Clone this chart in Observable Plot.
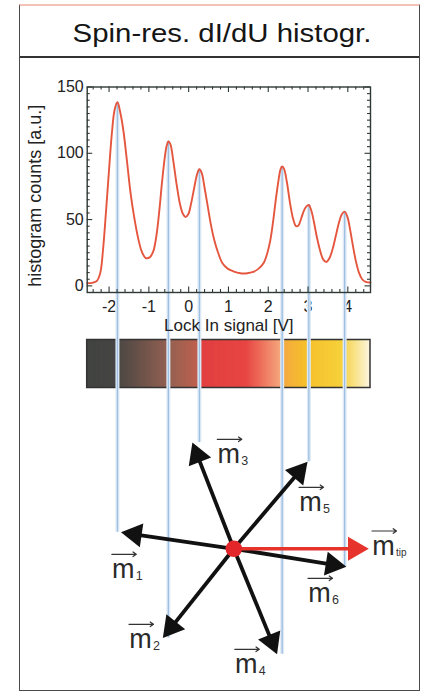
<!DOCTYPE html>
<html><head><meta charset="utf-8">
<script src="https://cdn.jsdelivr.net/npm/d3@7"></script>
<script src="https://cdn.jsdelivr.net/npm/@observablehq/plot@0.6"></script>
<style>
html,body{margin:0;padding:0;background:#fff;}
#page{position:relative;width:424px;height:693px;overflow:hidden;font-family:"Liberation Sans",Arial,sans-serif;}
#chart{position:absolute;left:0;top:0;width:424px;height:693px;}
#frame{position:absolute;left:19px;top:4px;width:401px;height:687px;box-sizing:border-box;border:1.5px solid #4a4a4a;border-top:2px solid #f2c3b6;pointer-events:none;}
#rule{position:absolute;left:20px;top:55.5px;width:399px;height:0;border-top:2px solid #333;}
#title{position:absolute;left:222px;top:19.5px;transform:translateX(-50%) scaleX(1.13);font-size:26px;line-height:26px;white-space:nowrap;color:#151515;}
</style></head>
<body><div id="page"><div id="chart"></div><div id="frame"></div><div id="rule"></div><div id="title"></div></div>
<script>
// ---------- data ----------
const titleText = "Spin-res. dI/dU histogr.";
const xLabel = "Lock In signal [V]";
const yLabel = "histogram counts [a.u.]";
const signal = [-2.55,-2.40,-2.30,-2.22,-2.15,-2.08,-2.00,-1.93,-1.86,-1.79,-1.72,-1.64,-1.55,-1.46,-1.37,-1.27,-1.18,-1.08,-0.98,-0.89,-0.81,-0.74,-0.67,-0.60,-0.55,-0.51,-0.46,-0.38,-0.30,-0.22,-0.14,-0.08,-0.01,0.06,0.14,0.21,0.27,0.33,0.40,0.48,0.56,0.64,0.74,0.85,0.98,1.12,1.30,1.47,1.62,1.76,1.88,1.97,2.05,2.12,2.19,2.26,2.31,2.35,2.40,2.47,2.55,2.63,2.70,2.76,2.83,2.90,2.96,3.02,3.08,3.15,3.22,3.30,3.38,3.46,3.54,3.62,3.70,3.78,3.85,3.92,3.99,4.06,4.13,4.20,4.28,4.36,4.45,4.57];
const counts = [2,2.5,4,10,28,55,88,115,133,138.5,131,117,94,70,52,36,26,21,21.5,26,38,56,78,97,106,109,107,93,76,62,54,52,54,62,74,84,88,85,74,60,46,35,25,17,13,11,9.5,9.5,10.5,13,17,24,34,48,65,80,88,90,88,78,62,50,45,45.5,51,57,60,61,57,48,37,27,20,18,21,28,38,48,54,56,52,42,30,19,10,5,3,2.5];
const xTicks = [-2,-1,0,1,2,3,4];
const yTicks = [0,50,100,150];
const peakSignal = [-1.79,-0.51,0.27,2.35,3.02,3.92];
const peakCounts = [138.5,109,88,90,61,56];
const momentLabels = ["1","2","3","4","5","6"];
const momentAngles = [171.7,231.5,111.3,292.3,49.7,350.9]; // degrees, counter-clockwise from m_tip
const tipLabel = "tip";
const tipAngle = 0;
const barStops = [-2.55,-1.85,-0.50,0.29,0.35,1.45,2.30,2.36,2.95,3.85,4.57];
const barColors = ["#3a3d3b","#3f3e3c","#8f5b4b","#bf5a47","#e1383a","#e63e3b","#f4a176","#f3a53a","#f5bd23","#f6cf33","#fbf5df"];

document.getElementById("title").textContent = titleText;

// ---------- layout ----------
const W = 424, H = 693;
const M = {top: 86.5, right: 54, bottom: 401, left: 86.7};
const xDomain = [-2.55, 4.57], yDomain = [-5, 150];
const sx = Plot.scale({x: {domain: xDomain, range: [M.left, W - M.right]}});
const sy = Plot.scale({y: {domain: yDomain, range: [H - M.bottom, M.top]}});
const X = p => sx.invert(p), Y = p => sy.invert(p);
const bottomPx = H - M.bottom, topPx = M.top, leftPx = M.left, rightPx = W - M.right;

// colour bar band
const barTopPx = 339.5, barBottomPx = 387.5;
const barStep = 0.01;
const barSlices = d3.range(Math.round((xDomain[1] - xDomain[0]) / barStep)).map(i => xDomain[0] + i * barStep);

// ticks (inward)
const minorX = d3.range(-24, 46, 2).map(i => i / 10).filter(v => !xTicks.some(t => Math.abs(t - v) < 1e-9));
const minorY = d3.range(5, 150, 5).filter(v => v % 50 !== 0);
const ticksXs = [...minorX.map(v => ({v, len: 3})), ...xTicks.map(v => ({v, len: 5.5}))];
const ticksYs = [...minorY.map(v => ({v, len: 3})), ...yTicks.map(v => ({v, len: 5.5}))];

// vector diagram
const hub = {x: 233.3, y: 548.3};
const arrowLen = 114, tipArrowLen = 135, headSide = 24;
const headH = headSide * Math.sqrt(3) / 2, headC = headSide / Math.sqrt(3);
const labelPos = [[-110.5,20.5],[-93.3,90.5],[-5,-94.5],[12.5,115.5],[76.7,-46.5],[85.7,44.5],[149.7,-2.8]];
function along(angle, len) {
  const a = angle * Math.PI / 180;
  return {x: hub.x + len * Math.cos(a), y: hub.y - len * Math.sin(a)};
}
const vectors = momentAngles.map((a, i) => ({angle: a, len: arrowLen, label: momentLabels[i], red: false}));
vectors.push({angle: tipAngle, len: tipArrowLen, label: tipLabel, red: true});
vectors.forEach((d, i) => {
  const t = along(d.angle, d.len), b = along(d.angle, d.len - headH + 2), c = along(d.angle, d.len - headC);
  d.tipX = X(t.x); d.tipY = Y(t.y);
  d.baseX = X(b.x); d.baseY = Y(b.y);
  d.headX = X(c.x); d.headY = Y(c.y);
  const lx = hub.x + labelPos[i][0], ly = hub.y + labelPos[i][1];
  d.mX = X(lx); d.mY = Y(ly);
  d.subX = X(lx + 12.5); d.subY = Y(ly + 7);
  d.ax1 = X(lx - 11.5); d.ax2 = X(lx + 13); d.ay = Y(ly - 15);
});
const blackVecs = vectors.filter(d => !d.red), redVecs = vectors.filter(d => d.red);
const hubX = X(hub.x), hubY = Y(hub.y);
const guides = peakSignal.map((p, i) => ({x: p, y1: peakCounts[i], y2: vectors[i].tipY}));
const hist = signal.map((s, i) => ({s, c: counts[i]}));

const axisColor = "#2f3a35";
const chart = Plot.plot({
  width: W, height: H,
  marginTop: M.top, marginRight: M.right, marginBottom: M.bottom, marginLeft: M.left,
  style: {fontFamily: "'Liberation Sans', Arial, sans-serif", fontSize: "16px", color: "#222", background: "transparent", overflow: "visible"},
  x: {domain: xDomain, ticks: xTicks, tickFormat: d => String(d), tickSize: 0, tickPadding: 8, label: null},
  y: {domain: yDomain, ticks: yTicks, tickFormat: d => String(d), tickSize: 0, tickPadding: 3.5, label: null},
  color: {type: "linear", domain: barStops, range: barColors},
  marks: [
    // colour bar
    Plot.rect(barSlices, {x1: d => d, x2: d => Math.min(d + barStep * 2, xDomain[1]), y1: () => Y(barBottomPx), y2: () => Y(barTopPx), fill: d => d + barStep / 2}),
    Plot.rect([0], {x1: () => xDomain[0], x2: () => xDomain[1], y1: () => Y(barBottomPx), y2: () => Y(barTopPx), fill: "none", stroke: "#333", strokeWidth: 1.5}),
    // guide lines from peaks to moments
    Plot.ruleX(guides, {x: "x", y1: "y1", y2: "y2", stroke: "#dfeaf5", strokeWidth: 4}),
    Plot.ruleX(guides, {x: "x", y1: "y1", y2: "y2", stroke: "#9dc0e2", strokeWidth: 1.3}),
    // histogram
    Plot.line(hist, {x: "s", y: "c", curve: "catmull-rom", stroke: "#e5563f", strokeWidth: 1.9}),
    Plot.frame({stroke: axisColor, strokeWidth: 1.4}),
    Plot.ruleX(ticksXs, {x: "v", y1: () => yDomain[0], y2: d => Y(bottomPx - d.len), stroke: axisColor, strokeWidth: 1.1}),
    Plot.ruleX(ticksXs, {x: "v", y1: () => yDomain[1], y2: d => Y(topPx + d.len), stroke: axisColor, strokeWidth: 1.1}),
    Plot.ruleY(ticksYs, {y: "v", x1: () => xDomain[0], x2: d => X(leftPx + d.len), stroke: axisColor, strokeWidth: 1.1}),
    Plot.ruleY(ticksYs, {y: "v", x1: () => xDomain[1], x2: d => X(rightPx - d.len), stroke: axisColor, strokeWidth: 1.1}),
    Plot.text([xLabel], {frameAnchor: "bottom", dy: 33.5, text: d => d, fontSize: 17, textAnchor: "middle", lineAnchor: "middle", fill: "#222"}),
    Plot.text([yLabel], {frameAnchor: "left", dx: -52, dy: 6, rotate: -90, text: d => d, fontSize: 18, textAnchor: "middle", lineAnchor: "middle", fill: "#222"}),
    // vectors
    Plot.link(blackVecs, {x1: () => hubX, y1: () => hubY, x2: "baseX", y2: "baseY", stroke: "#111", strokeWidth: 3.8}),
    Plot.dot(blackVecs, {x: "headX", y: "headY", symbol: "triangle", r: headSide * 0.3713, rotate: d => 90 - d.angle, fill: "#111", stroke: "none"}),
    Plot.link(redVecs, {x1: () => hubX, y1: () => hubY, x2: "baseX", y2: "baseY", stroke: "#e6342c", strokeWidth: 3.6}),
    Plot.dot(redVecs, {x: "headX", y: "headY", symbol: "triangle", r: headSide * 0.3713, rotate: d => 90 - d.angle, fill: "#e6342c", stroke: "none"}),
    Plot.dot([0], {x: () => hubX, y: () => hubY, r: 8.3, fill: "#e2262a", stroke: "none"}),
    // labels m_i with vector arrow
    Plot.text(vectors, {x: "mX", y: "mY", text: () => "m", fontSize: 27, textAnchor: "middle", lineAnchor: "middle", fill: "#2a2a2a"}),
    Plot.text(vectors, {x: "subX", y: "subY", text: "label", fontSize: d => d.red ? 10 : 12.5, textAnchor: "start", lineAnchor: "middle", fill: "#333"}),
    Plot.arrow(vectors, {x1: "ax1", y1: "ay", x2: "ax2", y2: "ay", stroke: "#333", strokeWidth: 1.2, headLength: 5, headAngle: 70})
  ]
});
document.getElementById("chart").append(chart);
</script>
</body></html>
